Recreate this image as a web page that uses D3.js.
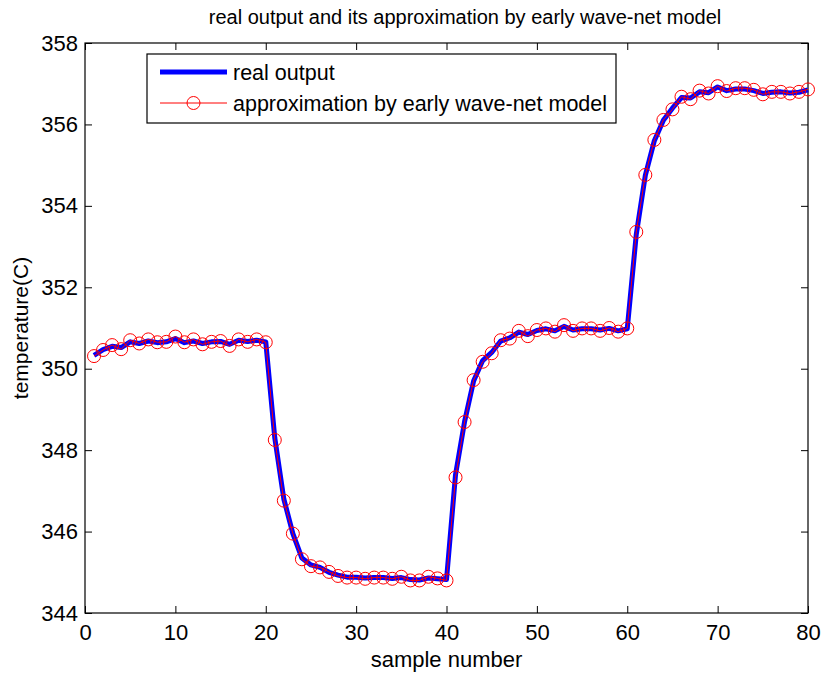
<!DOCTYPE html>
<html>
<head>
<meta charset="utf-8">
<script src="https://cdn.jsdelivr.net/npm/d3@7"></script>
<style>
    body { margin: 0; background: #fff; }
    text { font-family: "Liberation Sans", Arial, sans-serif; fill: #000; }
</style>
</head>
<body>
<div id="chart"></div>
<script>

// sample index 1..80
var samples = d3.range(1, 81);

var realOutput = [
    350.33, 350.47, 350.55, 350.52, 350.66, 350.62, 350.68, 350.64, 350.66, 350.74,
    350.64, 350.68, 350.62, 350.66, 350.67, 350.60, 350.70, 350.67, 350.70, 350.66,
    348.30, 346.80, 345.95, 345.35, 345.18, 345.12, 345.00, 344.93, 344.88, 344.88,
    344.86, 344.87, 344.87, 344.85, 344.87, 344.82, 344.81, 344.86, 344.84, 344.82,
    347.40, 348.70, 349.70, 350.20, 350.40, 350.68, 350.76, 350.90, 350.84, 350.94,
    350.98, 350.93, 351.04, 350.95, 350.98, 350.98, 350.95, 350.99, 350.93, 350.98,
    353.30, 354.75, 355.60, 356.10, 356.40, 356.66, 356.65, 356.80, 356.78, 356.92,
    356.83, 356.87, 356.87, 356.83, 356.76, 356.79, 356.80, 356.77, 356.79, 356.85
];

var approxOutput = [
    350.31, 350.46, 350.58, 350.48, 350.70, 350.62, 350.72, 350.65, 350.66, 350.79,
    350.65, 350.72, 350.60, 350.66, 350.68, 350.56, 350.72, 350.66, 350.72, 350.65,
    348.25, 346.76, 345.95, 345.32, 345.15, 345.12, 345.01, 344.91, 344.87, 344.87,
    344.84, 344.87, 344.87, 344.84, 344.89, 344.80, 344.80, 344.89, 344.85, 344.80,
    347.33, 348.69, 349.72, 350.17, 350.38, 350.70, 350.74, 350.93, 350.80, 350.95,
    350.99, 350.91, 351.07, 350.93, 350.99, 350.99, 350.93, 351.00, 350.91, 350.99,
    353.36, 354.76, 355.62, 356.11, 356.37, 356.68, 356.62, 356.83, 356.76, 356.94,
    356.82, 356.89, 356.89, 356.85, 356.74, 356.80, 356.80, 356.76, 356.80, 356.86
];

var xTicks = [0, 10, 20, 30, 40, 50, 60, 70, 80];
var yTicks = [344, 346, 348, 350, 352, 354, 356, 358];

var seriesNames = ["real output", "approximation by early wave-net model"];

var mLeft = 85, mRight = 808, mTop = 43, mBottom = 613;

var svg = d3.select("#chart")
            .append("svg")
            .attr("width", 822)
            .attr("height", 673);

var x = d3.scaleLinear()
            .domain([0, 80])
            .range([mLeft, mRight]);

var y = d3.scaleLinear()
            .domain([344, 358])
            .range([mBottom, mTop]);

// ticks inside the box, on all four sides
var tl = 7;
function styleAxis(g){
    g.select(".domain").remove();
    g.selectAll("line").attr("stroke", "#000");
    g.selectAll("text").style("font-size", "22px").style("font-family", "Liberation Sans, Arial, sans-serif");
}

svg.append("g")
    .attr("transform", "translate(0," + mBottom + ")")
    .call(d3.axisBottom(x).tickValues(xTicks).tickSizeInner(-tl).tickSizeOuter(0).tickPadding(11))
    .call(styleAxis);

svg.append("g")
    .attr("transform", "translate(0," + mTop + ")")
    .call(d3.axisTop(x).tickValues(xTicks).tickSizeInner(-tl).tickSizeOuter(0).tickFormat(""))
    .call(styleAxis);

svg.append("g")
    .attr("transform", "translate(" + mLeft + ",0)")
    .call(d3.axisLeft(y).tickValues(yTicks).tickSizeInner(-tl).tickSizeOuter(0).tickPadding(7))
    .call(styleAxis);

svg.append("g")
    .attr("transform", "translate(" + mRight + ",0)")
    .call(d3.axisRight(y).tickValues(yTicks).tickSizeInner(-tl).tickSizeOuter(0).tickFormat(""))
    .call(styleAxis);

// box
svg.append("rect")
    .attr("x", mLeft)
    .attr("y", mTop)
    .attr("width", mRight - mLeft)
    .attr("height", mBottom - mTop)
    .attr("fill", "none")
    .attr("stroke", "#000")
    .attr("stroke-width", 1.2);

// lines
var line = d3.line()
            .x(function(d, i) { return x(samples[i]); })
            .y(function(d) { return y(d); });

svg.append("path")
    .datum(realOutput)
    .attr("d", line)
    .attr("fill", "none")
    .attr("stroke", "#0000ff")
    .attr("stroke-width", 5)
    .attr("stroke-linejoin", "round");

svg.append("path")
    .datum(approxOutput)
    .attr("d", line)
    .attr("fill", "none")
    .attr("stroke", "#ff0000")
    .attr("stroke-width", 1);

svg.selectAll("circle.pt")
    .data(approxOutput)
    .enter()
    .append("circle")
    .attr("class", "pt")
    .attr("cx", function(d, i) { return x(samples[i]); })
    .attr("cy", function(d) { return y(d); })
    .attr("r", 6.5)
    .attr("fill", "none")
    .attr("stroke", "#ff0000")
    .attr("stroke-width", 1);

// title
svg.append("text")
    .attr("x", 465)
    .attr("y", 24)
    .attr("text-anchor", "middle")
    .style("font-size", "20px")
    .text("real output and its approximation by early wave-net model");

// x label
svg.append("text")
    .attr("x", (mLeft + mRight) / 2)
    .attr("y", 667)
    .attr("text-anchor", "middle")
    .style("font-size", "22px")
    .text("sample number");

// y label
svg.append("text")
    .attr("transform", "translate(28," + (mTop + mBottom) / 2 + ")rotate(-90)")
    .attr("text-anchor", "middle")
    .style("font-size", "21px")
    .text("temperature(C)");

// legend
var lg = svg.append("g");
lg.append("rect")
    .attr("x", 147)
    .attr("y", 54)
    .attr("width", 469)
    .attr("height", 69)
    .attr("fill", "#fff")
    .attr("stroke", "#000")
    .attr("stroke-width", 1.2);

lg.append("line")
    .attr("x1", 160).attr("x2", 227)
    .attr("y1", 72).attr("y2", 72)
    .attr("stroke", "#0000ff")
    .attr("stroke-width", 5);

lg.append("line")
    .attr("x1", 160).attr("x2", 227)
    .attr("y1", 103).attr("y2", 103)
    .attr("stroke", "#ff0000")
    .attr("stroke-width", 1);

lg.append("circle")
    .attr("cx", 193.5).attr("cy", 103)
    .attr("r", 6.5)
    .attr("fill", "none")
    .attr("stroke", "#ff0000");

lg.selectAll("text.lab")
    .data(seriesNames)
    .enter()
    .append("text")
    .attr("class", "lab")
    .attr("x", 233)
    .attr("y", function(d, i) { return 80 + i * 31; })
    .style("font-size", "21.5px")
    .text(function(d) { return d; });

</script>
</body>
</html>
